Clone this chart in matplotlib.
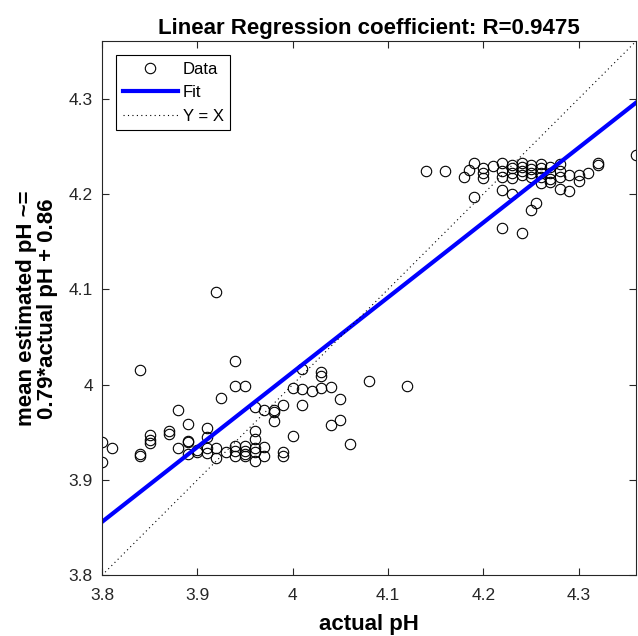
import matplotlib
matplotlib.use('Agg')
import matplotlib.pyplot as plt
import numpy as np

plt.rcParams['font.family'] = ['Liberation Sans', 'DejaVu Sans']

# actual pH (x) vs mean estimated pH (y)
actual_low = [3.80, 3.80, 3.81, 3.84, 3.84, 3.84, 3.85, 3.85, 3.85, 3.87, 3.87,
              3.88, 3.88, 3.89, 3.89, 3.89, 3.89, 3.90, 3.90, 3.91, 3.91, 3.91,
              3.91, 3.92, 3.92, 3.92, 3.925, 3.93, 3.94, 3.94, 3.94, 3.94, 3.94,
              3.95, 3.95, 3.95, 3.95, 3.95, 3.96, 3.96, 3.96, 3.96, 3.96, 3.96,
              3.97, 3.97, 3.97, 3.98, 3.98, 3.98, 3.99, 3.99, 3.99, 4.00, 4.00,
              4.01, 4.01, 4.01, 4.02, 4.03, 4.03, 4.03, 4.04, 4.04, 4.05, 4.05,
              4.06, 4.08, 4.12]
est_low = [3.940, 3.919, 3.933, 4.015, 3.927, 3.925, 3.947, 3.942, 3.939, 3.951, 3.948,
           3.973, 3.933, 3.959, 3.941, 3.940, 3.927, 3.931, 3.929, 3.954, 3.945, 3.934,
           3.928, 4.097, 3.933, 3.923, 3.986, 3.929, 4.025, 3.998, 3.936, 3.930, 3.925,
           3.998, 3.936, 3.930, 3.927, 3.925, 3.976, 3.951, 3.943, 3.933, 3.929, 3.920,
           3.973, 3.935, 3.925, 3.973, 3.971, 3.962, 3.979, 3.929, 3.925, 3.996, 3.946,
           4.016, 3.995, 3.979, 3.993, 4.013, 4.009, 3.996, 3.997, 3.958, 3.985, 3.963,
           3.938, 4.004, 3.999]

actual_high = [4.14, 4.16, 4.18, 4.185, 4.19, 4.19, 4.20, 4.20, 4.20, 4.21,
               4.22, 4.22, 4.22, 4.22, 4.22, 4.23, 4.23, 4.23, 4.23, 4.23,
               4.24, 4.24, 4.24, 4.24, 4.24, 4.25, 4.25, 4.25, 4.25, 4.25, 4.255,
               4.26, 4.26, 4.26, 4.26, 4.26, 4.27, 4.27, 4.27, 4.27,
               4.28, 4.28, 4.28, 4.28, 4.29, 4.29, 4.30, 4.30, 4.31, 4.32, 4.32, 4.36]
est_high = [4.224, 4.224, 4.218, 4.225, 4.232, 4.197, 4.227, 4.222, 4.217, 4.229,
            4.232, 4.224, 4.218, 4.204, 4.164, 4.230, 4.227, 4.222, 4.217, 4.200,
            4.232, 4.228, 4.224, 4.220, 4.159, 4.230, 4.226, 4.222, 4.218, 4.183, 4.190,
            4.231, 4.227, 4.222, 4.218, 4.211, 4.228, 4.222, 4.216, 4.212,
            4.231, 4.224, 4.218, 4.205, 4.220, 4.203, 4.220, 4.213, 4.222, 4.232, 4.230, 4.241]

actual = np.array(actual_low + actual_high)
estimated = np.array(est_low + est_high)

slope = 0.785
intercept = 0.873
lims = [3.8, 4.36]
ticks = [3.8, 3.9, 4.0, 4.1, 4.2, 4.3]
tick_labels = ['3.8', '3.9', '4', '4.1', '4.2', '4.3']

fig = plt.figure(figsize=(6.38, 6.36), dpi=100)
ax = fig.add_axes([102/638, (636-575.3)/636, 534/638, 534/636])

ax.plot(actual, estimated, 'o', mfc='none', mec='black', ms=7.5, mew=0.8, label='Data')
ax.plot(lims, [slope*v + intercept for v in lims], color=(0, 0, 1), lw=3, label='Fit')
ax.plot(lims, lims, color='black', lw=0.8, linestyle=(0, (1, 3)), label='Y = X')

ax.set_xlim(lims)
ax.set_ylim(lims)
ax.set_xticks(ticks)
ax.set_yticks(ticks)
ax.set_xticklabels(tick_labels)
ax.set_yticklabels(tick_labels)
ax.tick_params(direction='in', top=True, right=True, length=5, width=0.8,
               labelsize=12.5, colors=(0.15, 0.15, 0.15))
ax.tick_params(axis='x', pad=9)
ax.tick_params(axis='y', pad=6.5)
for s in ax.spines.values():
    s.set_color((0.15, 0.15, 0.15))
    s.set_linewidth(0.8)

ax.set_title('Linear Regression coefficient: R=0.9475', fontsize=16, fontweight='bold', pad=5)
ax.set_xlabel('actual pH', fontsize=16, fontweight='bold', labelpad=8)
ax.set_ylabel('mean estimated pH ~=\n0.79*actual pH + 0.86', fontsize=16, fontweight='bold',
              labelpad=8, linespacing=1.0)

leg = ax.legend(loc='upper left', fontsize=12, fancybox=False, framealpha=1,
                edgecolor='black', borderaxespad=0.84, handlelength=3.3,
                handletextpad=0.3, labelspacing=0.5, borderpad=0.4)
leg.get_frame().set_linewidth(0.8)

fig.savefig('out.png', dpi=100)
